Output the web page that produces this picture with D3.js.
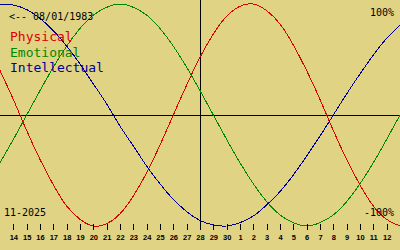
<!DOCTYPE html>
<html lang="en">
<head>
    <meta charset="UTF-8">
    <title>biorhythm</title>
    <script src="https://d3js.org/d3.v7.min.js"></script>
    <style>
        body { margin: 0; }
        svg { display: block; }
    </style>
</head>
<body>

<svg width="400" height="250"></svg>

<script>

    // day numbers, one per column (13 Nov .. 13 Dec 2025)
    var dayLabels = [13,14,15,16,17,18,19,20,21,22,23,24,25,26,27,28,29,30,1,2,3,4,5,6,7,8,9,10,11,12,13];

    // values, in %
    var physical = [40,14,-14,-40,-63,-82,-94,-100,-98,-89,-73,-52,-27,0,27,52,73,89,98,100,94,82,63,40,14,-14,-40,-63,-82,-94,-100];
    var emotional = [-43,-22,0,22,43,62,78,90,97,100,97,90,78,62,43,22,0,-22,-43,-62,-78,-90,-97,-100,-97,-90,-78,-62,-43,-22,0];
    var intellectual = [100,99,95,87,76,62,46,28,10,-10,-28,-46,-62,-76,-87,-95,-99,-100,-97,-91,-81,-69,-54,-37,-19,0,19,37,54,69,81];

    var seriesNames = ['Physical','Emotional','Intellectual'];
    var seriesColors = ['#dd0000','#008800','#000099'];

    var width = 400, height = 250;
    var svg = d3.select('svg');

    svg.append('rect')
        .attr('width', width)
        .attr('height', height)
        .attr('fill', '#e1d384');

    var x = d3.scaleLinear().domain([0, dayLabels.length - 1]).range([0, width]);
    var y = d3.scaleLinear().domain([-100, 100]).range([226, 4]);

    // cross lines: zero line and "today"
    svg.append('line')
        .attr('x1', 0).attr('x2', width)
        .attr('y1', y(0) + 0.5).attr('y2', y(0) + 0.5)
        .attr('stroke', '#000');
    svg.append('line')
        .attr('x1', x(15) + 0.5).attr('x2', x(15) + 0.5)
        .attr('y1', 0).attr('y2', 230)
        .attr('stroke', '#000');

    var line = d3.line()
        .x(function (d, i) { return x(i); })
        .y(function (d) { return y(d); })
        .curve(d3.curveNatural);

    [physical, emotional, intellectual].forEach(function (s, i) {
        svg.append('path')
            .attr('d', line(s))
            .attr('fill', 'none')
            .attr('stroke', seriesColors[i])
            .attr('stroke-width', 1)
            .attr('shape-rendering', 'crispEdges');
    });

    // day axis
    var tickIdx = d3.range(1, dayLabels.length - 1);
    var axisX = d3.axisBottom(x)
        .tickValues(tickIdx)
        .tickSize(6)
        .tickPadding(4.5)
        .tickFormat(function (d) { return dayLabels[d]; });

    var ax = svg.append('g')
        .attr('transform', 'translate(0,224)')
        .call(axisX);
    ax.select('.domain').remove();
    ax.selectAll('line').attr('stroke', '#000').attr('shape-rendering', 'crispEdges');
    ax.selectAll('text')
        .attr('fill', '#000')
        .attr('font-family', 'Liberation Sans')
        .attr('font-weight', 'bold')
        .attr('font-size', 7.5);

    // texts
    var mono = 'DejaVu Sans Mono';
    svg.append('text').attr('x', 9).attr('y', 20)
        .attr('font-family', mono).attr('font-size', 10)
        .text('<-- 08/01/1983');
    svg.append('text').attr('x', 394).attr('y', 16).attr('text-anchor', 'end')
        .attr('font-family', mono).attr('font-size', 10)
        .text('100%');
    svg.append('text').attr('x', 394).attr('y', 216).attr('text-anchor', 'end')
        .attr('font-family', mono).attr('font-size', 10)
        .text('-100%');
    svg.append('text').attr('x', 4).attr('y', 216)
        .attr('font-family', mono).attr('font-size', 10)
        .text('11-2025');

    svg.selectAll('.legend')
        .data(seriesNames)
        .enter()
        .append('text')
        .attr('class', 'legend')
        .attr('x', 10)
        .attr('y', function (d, i) { return 41 + i * 15.7; })
        .attr('font-family', mono)
        .attr('font-size', 13)
        .attr('fill', function (d, i) { return seriesColors[i]; })
        .text(function (d) { return d; });

</script>
</body>
</html>
